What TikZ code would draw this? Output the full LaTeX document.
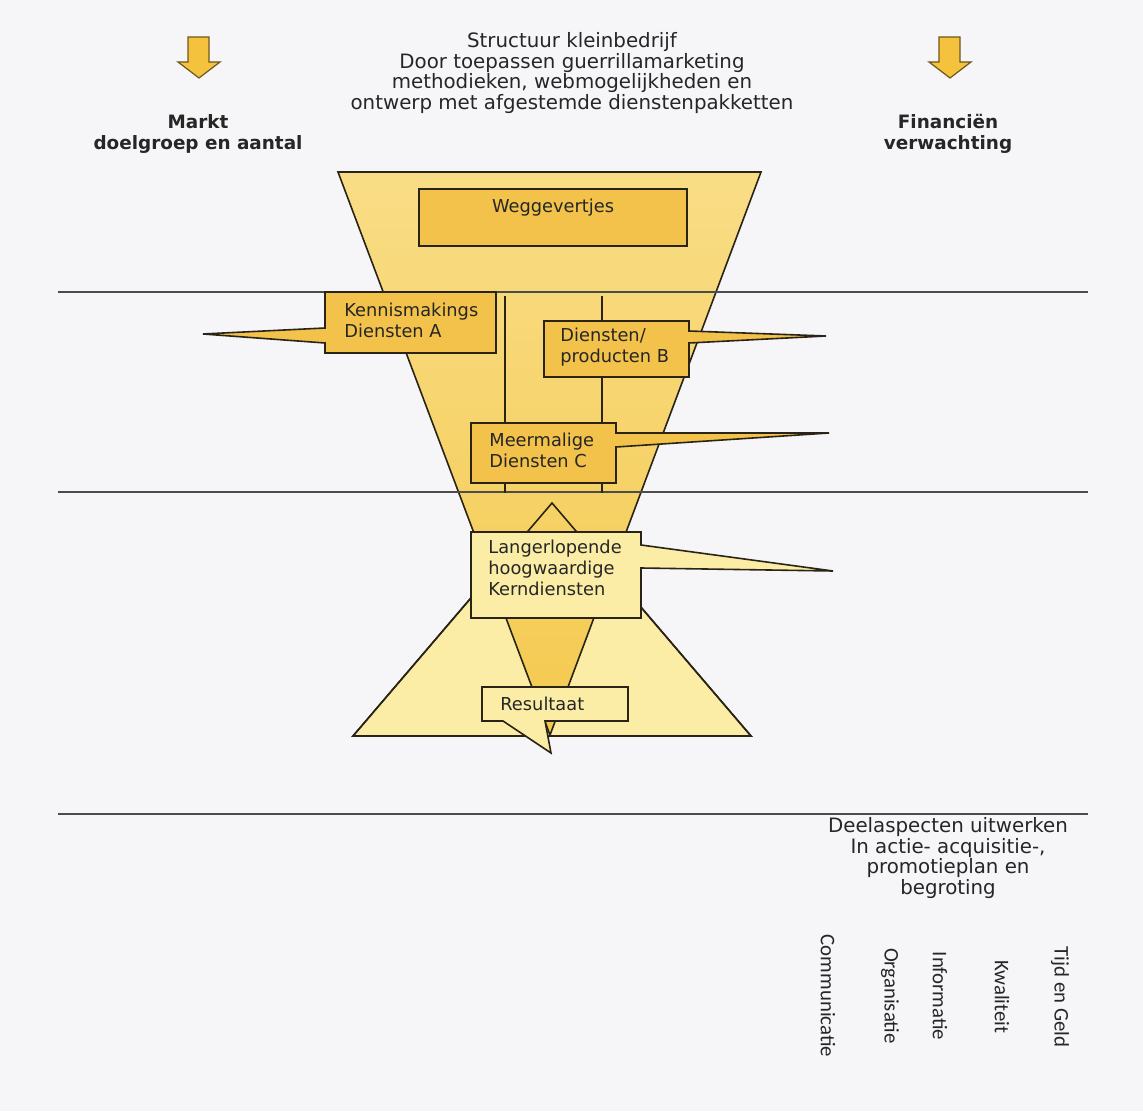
\documentclass[tikz,border=0pt]{standalone}
\usepackage{fontspec}
\setmainfont{DejaVu Sans}
\newfontfamily\calibfont{Carlito}
\definecolor{paper}{HTML}{F6F6F8}
\definecolor{funnellight}{HTML}{F9DD86}
\definecolor{funneldark}{HTML}{F4C94E}
\definecolor{boxgold}{HTML}{F2C24A}
\definecolor{palegold}{HTML}{FBEDA6}
\definecolor{arrowgold}{HTML}{F5C23E}
\definecolor{inkline}{HTML}{2A2418}
\tikzset{
  ruleline/.style={draw=black!70, line width=0.7pt},
  goldbox/.style={draw=inkline, fill=boxgold, line width=0.8pt, line join=miter},
  palebox/.style={draw=inkline, fill=palegold, line width=0.8pt, line join=miter},
  boxtext/.style={anchor=west, align=left, inner sep=0pt, font=\fontsize{8.9}{10.4}\selectfont, text=black!85},
  headtext/.style={align=center, inner sep=0pt, font=\fontsize{9.9}{10.3}\selectfont, text=black!85},
  boldtext/.style={align=center, inner sep=0pt, font=\fontsize{9.2}{10.3}\selectfont\bfseries, text=black!85},
  aspect/.style={rotate=-90, inner sep=0pt, font=\calibfont\fontsize{10.4}{12}\selectfont, text=black!85},
  blockarrow/.style={draw=black!55!arrowgold, fill=arrowgold, line width=0.6pt}
}
\begin{document}
\begin{tikzpicture}[x=0.5pt, y=-0.5pt]
	\fill[paper] (0,0) rectangle (1143,1111);

	\foreach \ax in {199,950}
		\draw[blockarrow] (\ax-11,37) -- (\ax+10,37) -- (\ax+10,62) -- (\ax+21,62) -- (\ax,78) -- (\ax-21,62) -- (\ax-11,62) -- cycle;

	\node[headtext] (title) at (572,73) {Structuur kleinbedrijf\\Door toepassen guerrillamarketing\\methodieken, webmogelijkheden en\\ontwerp met afgestemde dienstenpakketten};
	\node[boldtext] (markt) at (198,134) {Markt\\doelgroep en aantal};
	\node[boldtext] (financien) at (948,134) {Financiën\\verwachting};

	\draw[palebox] (552,503) -- (751,736) -- (353,736) -- cycle;
	\shade[top color=funnellight, bottom color=funneldark] (338,172) -- (761,172) -- (550,735) -- cycle;
	\draw[draw=inkline, line width=0.8pt] (338,172) -- (761,172) -- (550,735) -- cycle;
	\draw[draw=inkline, line width=0.8pt] (552,503) -- (751,736) -- (353,736) -- cycle;

	\draw[ruleline] (58,292) -- (1088,292);
	\draw[ruleline] (58,492) -- (1088,492);
	\draw[ruleline] (58,814) -- (1088,814);

	\draw[draw=inkline, line width=0.8pt] (505,296) -- (505,493);
	\draw[draw=inkline, line width=0.8pt] (602,296) -- (602,493);

	\draw[goldbox] (419,189) rectangle (687,246);
	\node[boxtext, anchor=center] (weg) at (553,208) {Weggevertjes};

	\draw[goldbox] (325,292) -- (496,292) -- (496,353) -- (325,353) -- (325,343) -- (203,334) -- (325,328) -- cycle;
	\node[boxtext] (kenA) at (344,320) {Kennismakings\\Diensten A};

	\draw[goldbox] (544,321) -- (689,321) -- (689,331) -- (826,336) -- (689,343) -- (689,377) -- (544,377) -- cycle;
	\node[boxtext] (dienB) at (560,347) {Diensten/\\producten B};

	\draw[goldbox] (471,423) -- (616,423) -- (616,433) -- (829,433) -- (616,447) -- (616,483) -- (471,483) -- cycle;
	\node[boxtext] (meerC) at (489,450) {Meermalige\\Diensten C};

	\draw[palebox] (471,532) -- (641,532) -- (641,545) -- (833,571) -- (641,568) -- (641,618) -- (471,618) -- cycle;
	\node[boxtext] (kern) at (488,568) {Langerlopende\\hoogwaardige\\Kerndiensten};

	\draw[palebox] (482,687) -- (628,687) -- (628,721) -- (545,721) -- (551,753) -- (503,721) -- (482,721) -- cycle;
	\node[boxtext] (result) at (500,704) {Resultaat};

	\node[headtext] (deel) at (948,858) {Deelaspecten uitwerken\\In actie- acquisitie-,\\promotieplan en\\begroting};

	\node[aspect] (communicatie) at (828,996) {Communicatie};
	\node[aspect] (organisatie) at (890,996) {Organisatie};
	\node[aspect] (informatie) at (940,996) {Informatie};
	\node[aspect] (kwaliteit) at (1002,997) {Kwaliteit};
	\node[aspect] (tijdgeld) at (1060,997) {Tijd en Geld};
\end{tikzpicture}
\end{document}
